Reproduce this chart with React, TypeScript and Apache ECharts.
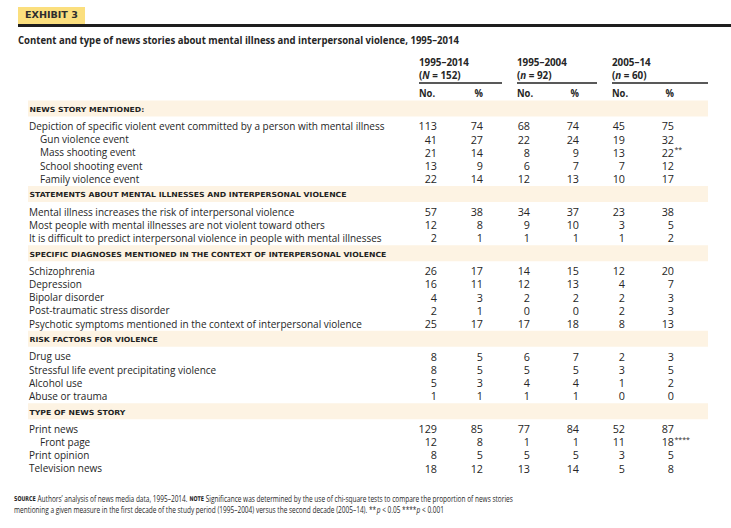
import React, { useEffect, useRef } from 'react';
import * as echarts from 'echarts';

// ---------- DATA ----------
const exhibitLabel = 'EXHIBIT 3';
const titleText =
  'Content and type of news stories about mental illness and interpersonal violence, 1995–2014';
const periodLabels = ['1995–2014', '1995–2004', '2005–14'];
const periodSizeLetters = ['N', 'n', 'n'];
const periodSizes = ['152', '92', '60'];
const subHeaders = ['No.', '%'];

const sectionTitles = [
  'NEWS STORY MENTIONED:',
  'STATEMENTS ABOUT MENTAL ILLNESSES AND INTERPERSONAL VIOLENCE',
  'SPECIFIC DIAGNOSES MENTIONED IN THE CONTEXT OF INTERPERSONAL VIOLENCE',
  'RISK FACTORS FOR VIOLENCE',
  'TYPE OF NEWS STORY',
];
const sectionRowCounts = [5, 3, 5, 4, 4];

const rowLabels = [
  'Depiction of specific violent event committed by a person with mental illness',
  'Gun violence event',
  'Mass shooting event',
  'School shooting event',
  'Family violence event',
  'Mental illness increases the risk of interpersonal violence',
  'Most people with mental illnesses are not violent toward others',
  'It is difficult to predict interpersonal violence in people with mental illnesses',
  'Schizophrenia',
  'Depression',
  'Bipolar disorder',
  'Post-traumatic stress disorder',
  'Psychotic symptoms mentioned in the context of interpersonal violence',
  'Drug use',
  'Stressful life event precipitating violence',
  'Alcohol use',
  'Abuse or trauma',
  'Print news',
  'Front page',
  'Print opinion',
  'Television news',
];
const rowIndented = [
  false, true, true, true, true,
  false, false, false,
  false, false, false, false, false,
  false, false, false, false,
  false, true, false, false,
];

const allNo = [113, 41, 21, 13, 22, 57, 12, 2, 26, 16, 4, 2, 25, 8, 8, 5, 1, 129, 12, 8, 18];
const allPct = [74, 27, 14, 9, 14, 38, 8, 1, 17, 11, 3, 1, 17, 5, 5, 3, 1, 85, 8, 5, 12];
const firstNo = [68, 22, 8, 6, 12, 34, 9, 1, 14, 12, 2, 0, 17, 6, 5, 4, 1, 77, 1, 5, 13];
const firstPct = [74, 24, 9, 7, 13, 37, 10, 1, 15, 13, 2, 0, 18, 7, 5, 4, 1, 84, 1, 5, 14];
const secondNo = [45, 19, 13, 7, 10, 23, 3, 1, 12, 4, 2, 2, 8, 2, 3, 1, 0, 52, 11, 3, 5];
const secondPct = [75, 32, 22, 12, 17, 38, 5, 2, 20, 7, 3, 3, 13, 3, 5, 2, 0, 87, 18, 5, 8];
const secondPctMarks = [
  '', '', '**', '', '',
  '', '', '',
  '', '', '', '', '',
  '', '', '', '',
  '', '****', '', '',
];

const sourceTag = 'SOURCE';
const sourceText = ' Authors’ analysis of news media data, 1995–2014. ';
const noteTag = 'NOTE';
const noteLine1 =
  ' Significance was determined by the use of chi-square tests to compare the proportion of news stories';
const noteLine2a =
  'mentioning a given measure in the first decade of the study period (1995–2004) versus the second decade (2005–14). **';
const noteLine2b = ' < 0.05 ****';
const noteLine2c = ' < 0.001';

// ---------- STYLE ----------
const INK = '#262626';
const BAND = '#fdf3e3';
const TAG = '#fbdf7e';
const SANS = "'Open Sans'";
const WIDE = "'DejaVu Sans'";

const measureCtx = (() => {
  if (typeof document === 'undefined') return null;
  const c = document.createElement('canvas');
  return c.getContext('2d');
})();
function measure(text: string, font: string) {
  if (!measureCtx) return text.length * 6;
  measureCtx.font = font;
  return measureCtx.measureText(text).width;
}
function fit(text: string, font: string, target: number) {
  return target / measure(text, font);
}

function buildElements() {
  const els: any[] = [];
  const txt = (o: any) => {
    const { x, y, scaleX = 1, ...style } = o;
    els.push({
      type: 'text',
      x,
      y,
      scaleX,
      silent: true,
      style: { fill: INK, textVerticalAlign: 'middle', ...style },
    });
  };

  // Exhibit tag and rule
  els.push({ type: 'rect', shape: { x: 18, y: 7, width: 67, height: 17 }, style: { fill: TAG }, silent: true });
  els.push({ type: 'rect', shape: { x: 18, y: 24, width: 713, height: 3 }, style: { fill: '#1e1e1e' }, silent: true });
  const tagFont = `900 8.5px ${WIDE}`;
  txt({
    x: 25, y: 15.5, text: exhibitLabel, fontSize: 8.5, fontWeight: 900, fontFamily: WIDE,
    scaleX: fit(exhibitLabel, tagFont, 53), fill: '#2e2e2e',
  });

  // Title
  const titleFont = `bold 11px ${SANS}`;
  txt({
    x: 18, y: 39.5, text: titleText, fontSize: 11, fontWeight: 'bold', fontFamily: SANS,
    scaleX: fit(titleText, titleFont, 441),
  });

  // Column headers
  const groupLeft = [419, 517, 612];
  const groupRight = [502, 597, 708];
  const numRight = [437, 483, 530, 579, 625, 674];
  const hdrFont = `bold 10.5px ${SANS}`;
  const hdrScale = fit(periodLabels[0], hdrFont, 50);
  periodLabels.forEach((p, i) => {
    txt({ x: groupLeft[i], y: 61.5, text: p, fontSize: 10.5, fontWeight: 'bold', fontFamily: SANS, scaleX: hdrScale });
    txt({
      x: groupLeft[i], y: 74.5,
      text: `({i|${periodSizeLetters[i]}} = ${periodSizes[i]})`,
      fontSize: 10.5, fontWeight: 'bold', fontFamily: SANS, scaleX: hdrScale,
      rich: { i: { fontStyle: 'italic', fontWeight: 'bold', fontSize: 10.5, fontFamily: SANS } },
    });
    els.push({
      type: 'line', silent: true,
      shape: { x1: groupLeft[i], y1: 83, x2: groupRight[i], y2: 83 },
      style: { stroke: '#222', lineWidth: 1.3 },
    });
    txt({ x: groupLeft[i], y: 93.5, text: subHeaders[0], fontSize: 10, fontWeight: 'bold', fontFamily: SANS, scaleX: hdrScale });
    txt({
      x: numRight[i * 2 + 1], y: 93.5, text: subHeaders[1], fontSize: 10, fontWeight: 'bold', fontFamily: SANS,
      textAlign: 'right', scaleX: hdrScale,
    });
  });

  // Body
  const labelFont = `11px ${SANS}`;
  const labelScale = fit(rowLabels[0], labelFont, 356);
  const secFont = `bold 7px ${WIDE}`;
  const secScale = fit(sectionTitles[2], secFont, 357);
  const numScale = fit('113', `11px ${SANS}`, 18.5);
  const cols = [allNo, allPct, firstNo, firstPct, secondNo, secondPct];

  let y = 100.5;
  let r = 0;
  sectionTitles.forEach((sec, s) => {
    els.push({ type: 'rect', silent: true, shape: { x: 28, y, width: 680, height: 16 }, style: { fill: BAND } });
    txt({
      x: 29.5, y: y + 9, text: sec, fontSize: 7, fontWeight: 'bold', fontFamily: WIDE, scaleX: secScale, fill: '#1f1f1f',
    });
    let ry = y + 16 + 9.3;
    for (let k = 0; k < sectionRowCounts[s]; k++, r++) {
      txt({
        x: rowIndented[r] ? 40 : 29, y: ry, text: rowLabels[r], fontSize: 11, fontFamily: SANS, scaleX: labelScale,
      });
      cols.forEach((col, c) => {
        txt({
          x: numRight[c], y: ry, text: String(col[r]), fontSize: 11, fontFamily: SANS,
          textAlign: 'right', scaleX: numScale,
        });
      });
      if (secondPctMarks[r]) {
        txt({ x: numRight[5] + 0.5, y: ry - 2.5, text: secondPctMarks[r], fontSize: 7, fontFamily: SANS });
      }
      ry += 13.25;
    }
    y = ry - 13.25 + 7.3;
  });

  // Footer
  const fSmall = `bold 6.6px ${WIDE}`;
  const fNorm = `9px ${SANS}`;
  const line1W =
    measure(sourceTag, fSmall) + measure(sourceText, fNorm) + measure(noteTag, fSmall) + measure(noteLine1, fNorm);
  const footScale = 499 / line1W;
  const rich = {
    sc: { fontSize: 6.6, fontWeight: 'bold', fontFamily: WIDE, fill: INK },
    it: { fontSize: 9, fontStyle: 'italic', fontFamily: SANS, fill: INK },
  };
  txt({
    x: 14, y: 498.5,
    text: `{sc|${sourceTag}}${sourceText}{sc|${noteTag}}${noteLine1}`,
    fontSize: 9, fontFamily: SANS, scaleX: footScale, rich,
  });
  txt({
    x: 14, y: 509.5,
    text: `${noteLine2a}{it|p}${noteLine2b}{it|p}${noteLine2c}`,
    fontSize: 9, fontFamily: SANS, scaleX: footScale, rich,
  });

  return els;
}

export default function App() {
  const ref = useRef<HTMLDivElement>(null);
  useEffect(() => {
    document.body.style.margin = '0';
    if (!ref.current) return;
    const chart = echarts.init(ref.current, undefined, { renderer: 'svg' });
    chart.setOption({
      animation: false,
      backgroundColor: '#ffffff',
      graphic: { elements: buildElements() },
    });
    return () => chart.dispose();
  }, []);
  return <div ref={ref} style={{ width: 731, height: 528 }} />;
}
